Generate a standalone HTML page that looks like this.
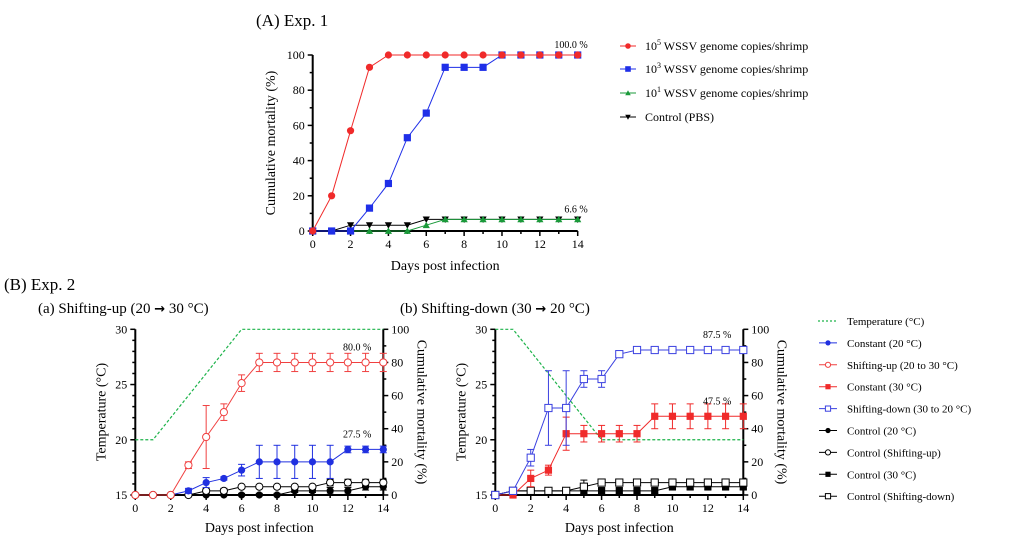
<!DOCTYPE html>
<html><head><meta charset="utf-8"><style>
body{margin:0;background:#fff;width:1034px;height:553px;overflow:hidden}
svg{font-family:"Liberation Serif",serif}
</style></head><body>
<svg id="fig" width="1034" height="553" viewBox="0 0 1034 553">
<text x="256" y="26" font-size="17">(A) Exp. 1</text>
<text x="4" y="290" font-size="17">(B) Exp. 2</text>
<text x="38" y="313" font-size="15">(a) Shifting-up (20 <tspan font-weight="bold" font-family="DejaVu Sans" font-size="13">→</tspan> 30 °C)</text>
<text x="400" y="313" font-size="15">(b) Shifting-down (30 <tspan font-weight="bold" font-family="DejaVu Sans" font-size="13">→</tspan> 20 °C)</text>
</svg>
<script>
const days=[0,1,2,3,4,5,6,7,8,9,10,11,12,13,14];
// Exp 1
const a_e5=[0,20,57,93,100,100,100,100,100,100,100,100,100,100,100];
const a_e3=[0,0,0,13,27,53,67,93,93,93,100,100,100,100,100];
const a_e1=[0,0,0,0,0,0,3.3,6.6,6.6,6.6,6.6,6.6,6.6,6.6,6.6];
const a_pbs=[0,0,3.3,3.3,3.3,3.3,6.6,6.6,6.6,6.6,6.6,6.6,6.6,6.6,6.6];
// Exp 2 (a)
const up_temp=[20,20,22,24,26,28,30,30,30,30,30,30,30,30,30];
const up_c20=[0,0,0,2.5,7.5,10,15,20,20,20,20,20,27.5,27.5,27.5];
const up_c20_err=[0,0,0,1.5,3,1,3.5,10,10,10,10,10,2,2,2];
const up_shift=[0,0,0,18,35,50,67.5,80,80,80,80,80,80,80,80];
const up_shift_err=[0,0,0,2,19,5,5,5.5,5.5,5.5,5.5,5.5,5.5,5.5,5.5];
const up_ctrl20=[0,0,0,0,0,0,0,0,0,2.5,2.5,2.5,2.5,5,5];
const up_ctrlshift=[0,0,0,0,2.5,2.5,5,5,5,5,5,7.5,7.5,7.5,7.5];
const up_ctrl_err=[0,0,0,0,1.5,1.5,1,1,1,1,1,2,2,2,2];
// Exp 2 (b)
const dn_temp=[30,30,28,26,24,22,20,20,20,20,20,20,20,20,20];
const dn_c30=[0,0,10,15,37,37,37,37,37,47.5,47.5,47.5,47.5,47.5,47.5];
const dn_c30_err=[0,0,5,3,10,5,5,5,5,7.5,7.5,7.5,7.5,7.5,7.5];
const dn_shift=[0,2.5,22.5,52.5,52.5,70,70,85,87.5,87.5,87.5,87.5,87.5,87.5,87.5];
const dn_shift_err=[0,2,5,22.5,22.5,5,5,1,1.5,1.5,1.5,1.5,1.5,1.5,1.5];
const dn_ctrl30=[0,2.5,2.5,2.5,2.5,2.5,2.5,2.5,2.5,2.5,5,5,5,5,5];
const dn_ctrlshift=[0,2.5,2.5,2.5,2.5,5,7.5,7.5,7.5,7.5,7.5,7.5,7.5,7.5,7.5];
const dn_ctrl_err=[0,1.5,1.5,1.5,1.5,4,2,2,2,2,2,2,2,2,2];

const svg=document.getElementById('fig');
const NS='http://www.w3.org/2000/svg';
function el(tag,attrs,parent,txt){const e=document.createElementNS(NS,tag);for(const k in attrs)e.setAttribute(k,attrs[k]);if(txt!==undefined)e.textContent=txt;(parent||svg).appendChild(e);return e;}

function marker(g,type,x,y,color,size){
  const s=size||3.6;let m;
  if(type==='circle')m=el('circle',{cx:x,cy:y,r:s,fill:color},g);
  else if(type==='ocircle')m=el('circle',{cx:x,cy:y,r:s,fill:'#fff',stroke:color,'stroke-width':1},g);
  else if(type==='square')m=el('rect',{x:x-s,y:y-s,width:2*s,height:2*s,fill:color},g);
  else if(type==='osquare')m=el('rect',{x:x-s,y:y-s,width:2*s,height:2*s,fill:'#fff',stroke:color,'stroke-width':1},g);
  else if(type==='tri')m=el('polygon',{points:`${x},${y-s} ${x-s},${y+s*0.8} ${x+s},${y+s*0.8}`,fill:color},g);
  else if(type==='dtri')m=el('polygon',{points:`${x},${y+s} ${x-s},${y-s*0.8} ${x+s},${y-s*0.8}`,fill:color},g);
  return m;
}

function series(g,name,X,Y,vals,color,type,err){
  const sg=el('g',{},g);
  
  
  el('polyline',{points:days.map((d,i)=>X(d)+','+Y(vals[i])).join(' '),fill:'none',stroke:color,'stroke-width':1},sg);
  if(err){days.forEach((d,i)=>{if(err[i]>0){const x=X(d),y1=Y(vals[i]+err[i]),y2=Y(Math.max(0,vals[i]-err[i]));
    el('line',{x1:x,x2:x,y1:y1,y2:y2,stroke:color,'stroke-width':1},sg);
    el('line',{x1:x-3.5,x2:x+3.5,y1:y1,y2:y1,stroke:color,'stroke-width':1},sg);
    el('line',{x1:x-3.5,x2:x+3.5,y1:y2,y2:y2,stroke:color,'stroke-width':1},sg);}});}
  days.forEach((d,i)=>marker(sg,type,X(d),Y(vals[i]),color));
}

function xAxis(g,X,yb,yl){
  el('line',{x1:X(0),x2:X(14),y1:yb,y2:yb,stroke:'#000','stroke-width':2},g);
  for(let d=0;d<=14;d++){el('line',{x1:X(d),x2:X(d),y1:yb,y2:yb+(d%2?3:5),stroke:'#000','stroke-width':1.5},g);
    if(d%2===0)el('text',{x:X(d),y:yb+17,'font-size':12,'text-anchor':'middle'},g,d);}
  el('text',{x:(X(0)+X(14))/2,y:yl,'font-size':14,'text-anchor':'middle'},g,'Days post infection');
}

// Panel A
(function(){
  const g=el('g',{});
  const X=d=>312.7+d*(577.7-312.7)/14, Y=v=>231-v*(231-55)/100;
  el('line',{x1:X(0),x2:X(0),y1:Y(0),y2:Y(100),stroke:'#000','stroke-width':2},g);
  for(let v=0;v<=100;v+=10){el('line',{x1:X(0),x2:X(0)-(v%20?3:5),y1:Y(v),y2:Y(v),stroke:'#000','stroke-width':1.5},g);
    if(v%20===0)el('text',{x:X(0)-8,y:Y(v)+4,'font-size':12,'text-anchor':'end'},g,v);}
  el('text',{x:0,y:0,'font-size':14,'text-anchor':'middle',transform:`translate(275,143) rotate(-90)`},g,'Cumulative mortality (%)');
  xAxis(g,X,231,270);
  series(g,'series-pbs',X,Y,a_pbs,'#000','dtri');
  series(g,'series-1e1',X,Y,a_e1,'#1a9a3a','tri');
  series(g,'series-1e3',X,Y,a_e3,'#1f2fe8','square');
  series(g,'series-1e5',X,Y,a_e5,'#f02a2a','circle');
  el('text',{x:X(14)+10,y:Y(100)-7,'font-size':10,'text-anchor':'end'},g,'100.0 %');
  el('text',{x:X(14)+10,y:Y(6.6)-7,'font-size':10,'text-anchor':'end'},g,'6.6 %');
  const leg=[['10','5','#f02a2a','circle',46],['10','3','#1f2fe8','square',69],['10','1','#1a9a3a','tri',93]];
  leg.forEach(l=>{const lg=el('g',{},g);
    el('line',{x1:620,x2:636,y1:l[4],y2:l[4],stroke:l[2],'stroke-width':1},lg);marker(lg,l[3],628,l[4],l[2],2.8);
    const t=el('text',{x:645,y:l[4]+4,'font-size':12},lg);t.textContent='10';el('tspan',{dy:-5,'font-size':8},t,l[1]);el('tspan',{dy:5},t,' WSSV genome copies/shrimp');});
  const lg=el('g',{},g);
  el('line',{x1:620,x2:636,y1:117,y2:117,stroke:'#000','stroke-width':1},lg);marker(lg,'dtri',628,117,'#000',2.8);
  el('text',{x:645,y:121,'font-size':12},lg,'Control (PBS)');
})();

function panelB(name,x0,x14,temp,list,anns){
  const g=el('g',{});
  const X=d=>x0+d*(x14-x0)/14, Y=v=>495-v*(495-329.3)/100, T=t=>495-(t-15)*(495-329.3)/15;
  el('line',{x1:x0,x2:x0,y1:495,y2:329.3,stroke:'#000','stroke-width':2},g);
  for(let t=15;t<=30;t++){el('line',{x1:x0,x2:x0-(t%5?3:5),y1:T(t),y2:T(t),stroke:'#000','stroke-width':1.5},g);
    if(t%5===0)el('text',{x:x0-8,y:T(t)+4,'font-size':12,'text-anchor':'end'},g,t);}
  el('line',{x1:x14,x2:x14,y1:495,y2:329.3,stroke:'#000','stroke-width':2},g);
  for(let v=0;v<=100;v+=10){el('line',{x1:x14,x2:x14+(v%20?3:5),y1:Y(v),y2:Y(v),stroke:'#000','stroke-width':1.5},g);
    if(v%20===0)el('text',{x:x14+8,y:Y(v)+4,'font-size':12},g,v);}
  el('text',{x:0,y:0,'font-size':14,'text-anchor':'middle',transform:`translate(${x0-30},412) rotate(-90)`},g,'Temperature (°C)');
  el('text',{x:0,y:0,'font-size':14,'text-anchor':'middle',transform:`translate(${x14+34},412) rotate(90)`},g,'Cumulative mortality (%)');
  xAxis(g,X,495,532);
  const tg=el('g',{},g);
  el('polyline',{points:days.map((d,i)=>X(d)+','+T(temp[i])).join(' '),fill:'none',stroke:'#1db34a','stroke-width':1.2,'stroke-dasharray':'3,2'},tg);
  list.forEach(s=>series(g,s[0],X,Y,s[1],s[2],s[3],s[4]));
  anns.forEach(a=>el('text',{x:X(14)-12,y:Y(a[0])-12,'font-size':10,'text-anchor':'end'},g,a[1]));
}
panelB('chart-shifting-up',135.3,383.3,up_temp,[
 ['series-control-20',up_ctrl20,'#000','circle',up_ctrl_err],
 ['series-control-shifting-up',up_ctrlshift,'#000','ocircle',up_ctrl_err],
 ['series-constant-20',up_c20,'#2030e0','circle',up_c20_err],
 ['series-shifting-up',up_shift,'#f04040','ocircle',up_shift_err]],
 [[80,'80.0 %'],[27.5,'27.5 %']]);
panelB('chart-shifting-down',495.3,743.3,dn_temp,[
 ['series-control-30',dn_ctrl30,'#000','square',dn_ctrl_err],
 ['series-control-shifting-down',dn_ctrlshift,'#000','osquare',dn_ctrl_err],
 ['series-constant-30',dn_c30,'#f02a2a','square',dn_c30_err],
 ['series-shifting-down',dn_shift,'#3a40e0','osquare',dn_shift_err]],
 [[87.5,'87.5 %'],[47.5,'47.5 %']]);

// Legend B
const legB=[['Temperature (°C)','#1db34a',null],['Constant (20 °C)','#2030e0','circle'],['Shifting-up (20 to 30 °C)','#f04040','ocircle'],
 ['Constant (30 °C)','#f02a2a','square'],['Shifting-down (30 to 20 °C)','#3a40e0','osquare'],['Control (20 °C)','#000','circle'],
 ['Control (Shifting-up)','#000','ocircle'],['Control (30 °C)','#000','square'],['Control (Shifting-down)','#000','osquare']];
legB.forEach((l,i)=>{const y=321+i*21.9;const lg=el('g',{});
  
  
  if(!l[2])el('line',{x1:818,x2:838,y1:y,y2:y,stroke:l[1],'stroke-width':1.2,'stroke-dasharray':'2,2'},lg);
  else{el('line',{x1:819,x2:837,y1:y,y2:y,stroke:l[1],'stroke-width':1},lg);marker(lg,l[2],828,y,l[1],2.6);}
  el('text',{x:847,y:y+4,'font-size':11},lg,l[0]);});
</script>
</body></html>
